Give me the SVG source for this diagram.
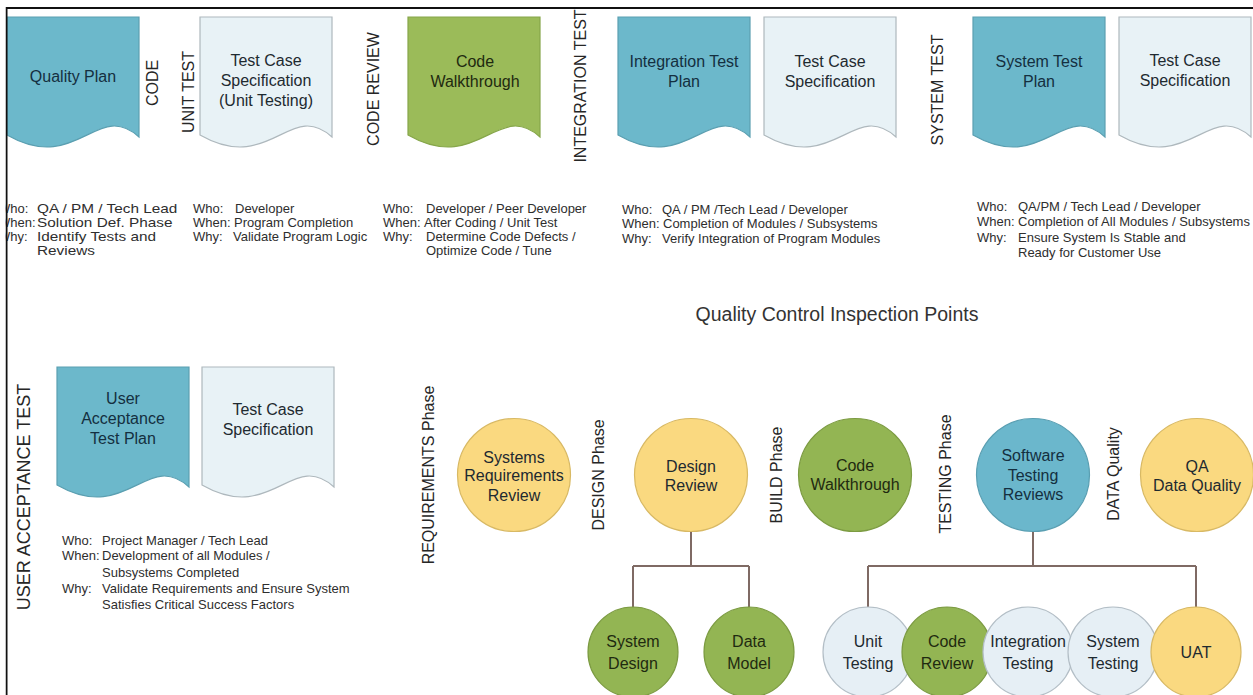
<svg xmlns="http://www.w3.org/2000/svg" xmlns:xlink="http://www.w3.org/1999/xlink" width="1253" height="695" viewBox="0 0 1253 695">
<style>
text{font-family:"Liberation Sans",Arial,sans-serif}
.dt{font-size:16px;text-anchor:middle;fill:#1e2a30}
.dtb{font-size:16px;text-anchor:middle;fill:#142f40}
.dtg{font-size:16px;text-anchor:middle;fill:#1f2a10}
.vl{font-size:16px;text-anchor:middle;fill:#262626}
.info{font-size:13px;fill:#2e2e2e}
.blue{fill:#6cb8cb;stroke:#5b9fb1;stroke-width:1.2}
.light{fill:#e8f2f6;stroke:#aeb8bd;stroke-width:1.2}
.green{fill:#9bbb59;stroke:#86a64a;stroke-width:1.2}
.cy{fill:#fad980;stroke:#d8b964;stroke-width:1.2}
.cg{fill:#93b553;stroke:#7c9b42;stroke-width:1.2}
.cb{fill:#6bb7cc;stroke:#5a9fb2;stroke-width:1.2}
.cl{fill:#e6eff5;stroke:#b3bec6;stroke-width:1.2}
.conn{fill:none;stroke:#7f6a64;stroke-width:2}
</style>
<defs>
<path id="doc" d="M0,0 H132 V120 C90,82 70,158 0,118 Z"/>
</defs>
<rect x="0" y="0" width="1253" height="695" fill="#ffffff"/>

<g id="quality-plan"><use xlink:href="#doc" x="7" y="17" class="blue"/><text class="dtb" x="73" y="82">Quality Plan</text></g>
<g id="label-code"><text class="vl" transform="translate(158,83) rotate(-90)">CODE</text></g>
<g id="label-unit-test"><text class="vl" transform="translate(194,92) rotate(-90)">UNIT TEST</text></g>
<g id="tcs-unit"><use xlink:href="#doc" x="200" y="17" class="light"/><text class="dt" x="266" y="66">Test Case</text><text class="dt" x="266" y="86">Specification</text><text class="dt" x="266" y="106">(Unit Testing)</text></g>
<g id="label-code-review"><text class="vl" transform="translate(379,89) rotate(-90)">CODE REVIEW</text></g>
<g id="code-walkthrough-doc"><use xlink:href="#doc" x="408" y="17" class="green"/><text class="dtg" x="475" y="67">Code</text><text class="dtg" x="475" y="87">Walkthrough</text></g>
<g id="label-integration-test"><text class="vl" transform="translate(586,86) rotate(-90)">INTEGRATION TEST</text></g>
<g id="integration-test-plan"><use xlink:href="#doc" x="618" y="17" class="blue"/><text class="dtb" x="684" y="67">Integration Test</text><text class="dtb" x="684" y="87">Plan</text></g>
<g id="tcs-integration"><use xlink:href="#doc" x="764" y="17" class="light"/><text class="dt" x="830" y="67">Test Case</text><text class="dt" x="830" y="87">Specification</text></g>
<g id="label-system-test"><text class="vl" transform="translate(943,90) rotate(-90)">SYSTEM TEST</text></g>
<g id="system-test-plan"><use xlink:href="#doc" x="973" y="17" class="blue"/><text class="dtb" x="1039" y="67">System Test</text><text class="dtb" x="1039" y="87">Plan</text></g>
<g id="tcs-system"><use xlink:href="#doc" x="1119" y="17" class="light"/><text class="dt" x="1185" y="66">Test Case</text><text class="dt" x="1185" y="86">Specification</text></g>

<g id="info-quality-plan" class="info">
<text x="-2" y="213">Who:</text>
<text x="-2" y="227">When:</text>
<text x="-2" y="241">Why:</text>
<g transform="translate(37,0) scale(1.18,1)">
<text x="0" y="213">QA / PM / Tech Lead</text>
<text x="0" y="227">Solution Def. Phase</text>
<text x="0" y="241">Identify Tests and</text>
<text x="0" y="255">Reviews</text>
</g>
</g>
<g id="info-unit-test" class="info">
<text x="193" y="213">Who:</text><text x="235" y="213">Developer</text>
<text x="193" y="227">When:</text><text x="234" y="227">Program Completion</text>
<text x="193" y="241">Why:</text><text x="233" y="241">Validate Program Logic</text>
</g>
<g id="info-code-review" class="info">
<text x="383" y="213">Who:</text><text x="426" y="213">Developer / Peer Developer</text>
<text x="383" y="227">When:</text><text x="424" y="227">After Coding / Unit Test</text>
<text x="383" y="241">Why:</text><text x="426" y="241">Determine Code Defects /</text>
<text x="426" y="255">Optimize Code / Tune</text>
</g>
<g id="info-integration" class="info">
<text x="622" y="214">Who:</text><text x="662" y="214">QA / PM /Tech Lead / Developer</text>
<text x="622" y="228">When:</text><text x="663" y="228">Completion of Modules / Subsystems</text>
<text x="622" y="243">Why:</text><text x="662" y="243">Verify Integration of Program Modules</text>
</g>
<g id="info-system" class="info">
<text x="977" y="211">Who:</text><text x="1018" y="211">QA/PM / Tech Lead / Developer</text>
<text x="977" y="226">When:</text><text x="1018" y="226">Completion of All Modules / Subsystems</text>
<text x="977" y="242">Why:</text><text x="1018" y="242">Ensure System Is Stable and</text>
<text x="1018" y="257">Ready for Customer Use</text>
</g>

<g id="label-uat"><text class="vl" style="font-size:18px" transform="translate(30,497) rotate(-90)">USER ACCEPTANCE TEST</text></g>
<g id="uat-plan"><use xlink:href="#doc" x="57" y="367" class="blue"/><text class="dtb" x="123" y="404">User</text><text class="dtb" x="123" y="424">Acceptance</text><text class="dtb" x="123" y="444">Test Plan</text></g>
<g id="tcs-uat"><use xlink:href="#doc" x="202" y="367" class="light"/><text class="dt" x="268" y="415">Test Case</text><text class="dt" x="268" y="435">Specification</text></g>
<g id="info-uat" class="info">
<text x="62" y="545">Who:</text><text x="102" y="545">Project Manager / Tech Lead</text>
<text x="62" y="560">When:</text><text x="102" y="560">Development of all Modules /</text>
<text x="102" y="577">Subsystems Completed</text>
<text x="62" y="593">Why:</text><text x="102" y="593">Validate Requirements and Ensure System</text>
<text x="102" y="609">Satisfies Critical Success Factors</text>
</g>

<g id="title"><text x="837" y="321" style="font-size:19.5px;text-anchor:middle;fill:#333">Quality Control Inspection Points</text></g>

<g id="connectors">
<path class="conn" d="M691,532 V566 M633,566 H749 M633,566 V607 M749,566 V607"/>
<path class="conn" d="M1033,532 V566 M868,566 H1196 M868,566 V607 M1196,566 V607"/>
</g>

<g id="label-requirements"><text class="vl" transform="translate(434,475) rotate(-90)">REQUIREMENTS Phase</text></g>
<g id="systems-requirements-review"><circle cx="514" cy="475" r="56.5" class="cy"/><text class="dt" x="514" y="463">Systems</text><text class="dt" x="514" y="481">Requirements</text><text class="dt" x="514" y="501">Review</text></g>
<g id="label-design"><text class="vl" transform="translate(604,475) rotate(-90)">DESIGN Phase</text></g>
<g id="design-review"><circle cx="691" cy="475" r="56.5" class="cy"/><text class="dt" x="691" y="472">Design</text><text class="dt" x="691" y="491">Review</text></g>
<g id="label-build"><text class="vl" transform="translate(782,475) rotate(-90)">BUILD Phase</text></g>
<g id="code-walkthrough"><circle cx="855" cy="475" r="56.5" class="cg"/><text class="dtg" x="855" y="471">Code</text><text class="dtg" x="855" y="490">Walkthrough</text></g>
<g id="label-testing"><text class="vl" transform="translate(951,474) rotate(-90)">TESTING Phase</text></g>
<g id="software-testing-reviews"><circle cx="1033" cy="475" r="56.5" class="cb"/><text class="dtb" x="1033" y="461">Software</text><text class="dtb" x="1033" y="481">Testing</text><text class="dtb" x="1033" y="500">Reviews</text></g>
<g id="label-data-quality"><text class="vl" transform="translate(1119,474) rotate(-90)">DATA Quality</text></g>
<g id="qa-data-quality"><circle cx="1197" cy="475" r="56.5" class="cy"/><text class="dt" x="1197" y="472">QA</text><text class="dt" x="1197" y="491">Data Quality</text></g>

<g id="system-design"><circle cx="633" cy="652" r="45" class="cg"/><text class="dtg" x="633" y="647">System</text><text class="dtg" x="633" y="669">Design</text></g>
<g id="data-model"><circle cx="749" cy="652" r="45" class="cg"/><text class="dtg" x="749" y="647">Data</text><text class="dtg" x="749" y="669">Model</text></g>
<g id="unit-testing"><circle cx="868" cy="652" r="45" class="cl"/><text class="dt" x="868" y="647">Unit</text><text class="dt" x="868" y="669">Testing</text></g>
<g id="code-review"><circle cx="947" cy="652" r="45" class="cg"/><text class="dtg" x="947" y="647">Code</text><text class="dtg" x="947" y="669">Review</text></g>
<g id="integration-testing"><circle cx="1028" cy="652" r="45" class="cl"/><text class="dt" x="1028" y="647">Integration</text><text class="dt" x="1028" y="669">Testing</text></g>
<g id="system-testing"><circle cx="1113" cy="652" r="45" class="cl"/><text class="dt" x="1113" y="647">System</text><text class="dt" x="1113" y="669">Testing</text></g>
<g id="uat"><circle cx="1196" cy="652" r="45" class="cy"/><text class="dt" x="1196" y="658">UAT</text></g>

<g id="frame" fill="none" stroke="#111" stroke-width="2">
<path d="M6.5,695 V8 H1253"/>
</g>
<rect x="0" y="0" width="5.5" height="695" fill="#ffffff"/>
</svg>
